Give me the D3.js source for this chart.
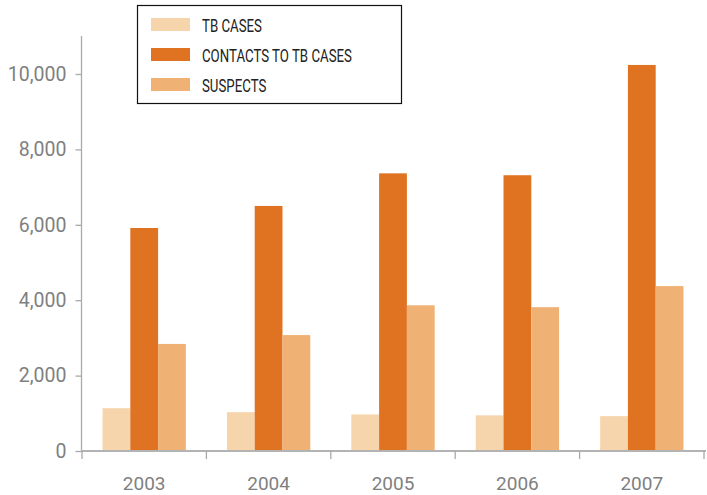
<!DOCTYPE html>
<html>
<head>
<meta charset="utf-8">
<script src="https://cdn.jsdelivr.net/npm/d3@7"></script>
<style>
  html, body { margin: 0; padding: 0; background: #fff; }
  svg { display: block; }
  .tick text { font-family: Roboto, "DejaVu Sans", sans-serif; fill: #808080; }
  .legend text { font-family: Roboto, "DejaVu Sans", sans-serif; fill: #222; }
</style>
</head>
<body>
<svg id="chart" width="707" height="495"></svg>
<script>
// Screened persons per year
const years = ["2003", "2004", "2005", "2006", "2007"];
const seriesNames = ["TB CASES", "CONTACTS TO TB CASES", "SUSPECTS"];
const tbCases = [1135, 1030, 970, 945, 925];
const contacts = [5915, 6500, 7365, 7315, 10240];
const suspects = [2840, 3075, 3865, 3815, 4375];
const yTicks = [0, 2000, 4000, 6000, 8000, 10000];
const colors = ["#f6d5ac", "#e07322", "#f0b274"];

const seriesValues = [tbCases, contacts, suspects];

const svg = d3.select("#chart");

const y = d3.scaleLinear()
  .domain([0, 10000])
  .range([451, 74]);

const x0 = d3.scaleBand()
  .domain(years)
  .range([82, 704])
  .paddingInner(0.33)
  .paddingOuter(0.165);

const x1 = d3.scaleBand()
  .domain(d3.range(seriesNames.length))
  .range([0, x0.bandwidth()]);

// bars
const groups = svg.append("g")
  .selectAll("g")
  .data(years)
  .join("g")
  .attr("transform", d => `translate(${x0(d)},0)`);

groups.selectAll("rect")
  .data((d, i) => seriesValues.map((vals, s) => ({ s, v: vals[i] })))
  .join("rect")
  .attr("x", d => x1(d.s))
  .attr("width", x1.bandwidth())
  .attr("y", d => y(d.v))
  .attr("height", d => y(0) - y(d.v))
  .attr("fill", d => colors[d.s]);

// y axis
const yAxis = svg.append("g")
  .attr("transform", "translate(81.5,0)")
  .call(d3.axisLeft(y).tickValues(yTicks).tickSize(6).tickPadding(9)
    .tickFormat(d3.format(",")));
yAxis.select(".domain").remove();
yAxis.append("line")
  .attr("x1", 0).attr("x2", 0)
  .attr("y1", 36).attr("y2", 451)
  .attr("stroke", "#a9a9a9").attr("stroke-width", 1.3);
yAxis.selectAll(".tick line").attr("stroke", "#a9a9a9").attr("stroke-width", 1.3);
yAxis.selectAll(".tick text").attr("font-size", 19.5);

// x axis with ticks at band boundaries
const step = x0.step();
const bounds = d3.range(years.length + 1).map(i => 82 + i * step);
const xAxisG = svg.append("g");
xAxisG.append("line")
  .attr("x1", 81).attr("x2", 706)
  .attr("y1", 451).attr("y2", 451)
  .attr("stroke", "#b3b3b3").attr("stroke-width", 2);
xAxisG.selectAll("line.tk")
  .data(bounds)
  .join("line")
  .attr("class", "tk")
  .attr("x1", d => d).attr("x2", d => d)
  .attr("y1", 451).attr("y2", 459)
  .attr("stroke", "#a9a9a9").attr("stroke-width", 1.3);
xAxisG.selectAll("text")
  .data(years)
  .join("text")
  .attr("x", d => x0(d) + x0.bandwidth() / 2)
  .attr("y", 490)
  .attr("text-anchor", "middle")
  .attr("font-family", "Roboto, 'DejaVu Sans', sans-serif")
  .attr("font-size", 19)
  .attr("fill", "#808080")
  .text(d => d);

// legend
const legend = svg.append("g").attr("class", "legend");
legend.append("rect")
  .attr("x", 137.5).attr("y", 5.5)
  .attr("width", 264).attr("height", 98)
  .attr("fill", "#fff").attr("stroke", "#111").attr("stroke-width", 1.2);
const items = legend.selectAll("g.item")
  .data(seriesNames)
  .join("g")
  .attr("class", "item")
  .attr("transform", (d, i) => `translate(0,${18 + i * 30})`);
items.append("rect")
  .attr("x", 151).attr("y", 0)
  .attr("width", 39).attr("height", 13)
  .attr("fill", (d, i) => colors[i]);
const labels = items.append("text")
  .attr("font-size", 18)
  .text(d => d);
// condensed look: horizontally squeeze the labels to a common factor
const longest = labels.filter((d, i) => i === 1).node().getComputedTextLength();
const squeeze = 150 / longest;
labels.attr("transform", `translate(202,13.5) scale(${squeeze},1)`);
</script>
</body>
</html>
